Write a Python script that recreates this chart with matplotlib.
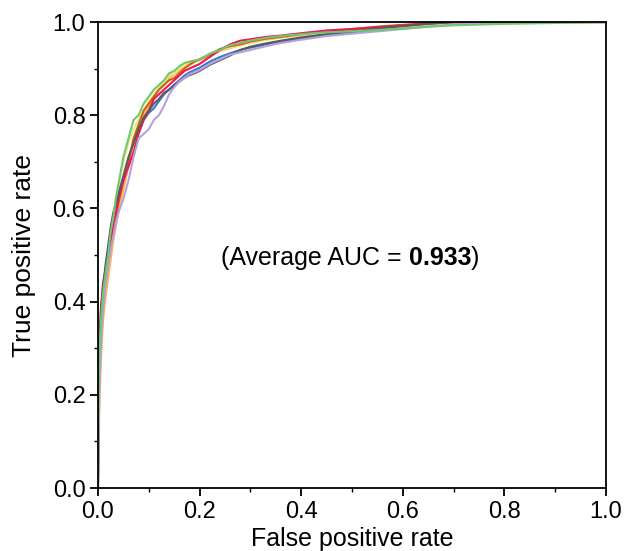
import matplotlib
matplotlib.use("Agg")
import matplotlib.pyplot as plt
from matplotlib.ticker import MultipleLocator, FormatStrFormatter

plt.rcParams['font.family'] = ['Liberation Sans', 'DejaVu Sans']

# Shared false-positive-rate sample points
fpr_points = [0, 0.001, 0.003, 0.006, 0.01, 0.015, 0.02, 0.025, 0.03, 0.035, 0.04,
              0.05, 0.06, 0.07, 0.08, 0.09, 0.10, 0.11, 0.12, 0.13, 0.14,
              0.15, 0.16, 0.17, 0.18, 0.19, 0.20, 0.22, 0.24, 0.26, 0.28,
              0.30, 0.33, 0.36, 0.40, 0.45, 0.50, 0.55, 0.60, 0.65, 0.70,
              0.80, 0.90, 1.00]

# True positive rate of each ROC curve at those points
blue_tpr = [0, 0.12, 0.26, 0.35, 0.40, 0.42, 0.46, 0.52, 0.56, 0.58, 0.61,
            0.66, 0.70, 0.74, 0.77, 0.79, 0.805, 0.815, 0.83, 0.845, 0.855,
            0.865, 0.875, 0.885, 0.892, 0.897, 0.902, 0.915, 0.925, 0.933, 0.94,
            0.945, 0.952, 0.958, 0.965, 0.972, 0.978, 0.984, 0.989, 0.994, 0.997,
            0.999, 1.0, 1.0]
orange_tpr = [0, 0.08, 0.18, 0.28, 0.36, 0.41, 0.45, 0.49, 0.53, 0.56, 0.59,
              0.64, 0.69, 0.73, 0.77, 0.80, 0.82, 0.84, 0.855, 0.865, 0.88,
              0.888, 0.895, 0.903, 0.91, 0.915, 0.918, 0.928, 0.938, 0.944, 0.95,
              0.955, 0.962, 0.967, 0.972, 0.978, 0.983, 0.987, 0.991, 0.994, 0.997,
              0.999, 1.0, 1.0]
yellow_tpr = [0, 0.13, 0.25, 0.34, 0.40, 0.45, 0.50, 0.54, 0.58, 0.62, 0.65,
              0.70, 0.74, 0.77, 0.79, 0.81, 0.83, 0.845, 0.86, 0.87, 0.885,
              0.89, 0.90, 0.91, 0.915, 0.918, 0.92, 0.93, 0.94, 0.945, 0.95,
              0.955, 0.962, 0.968, 0.973, 0.978, 0.982, 0.986, 0.99, 0.993, 0.996,
              0.998, 1.0, 1.0]
brown_tpr = [0, 0.14, 0.27, 0.36, 0.41, 0.45, 0.49, 0.52, 0.55, 0.58, 0.61,
             0.66, 0.70, 0.75, 0.78, 0.81, 0.825, 0.84, 0.855, 0.865, 0.875,
             0.88, 0.89, 0.90, 0.908, 0.915, 0.92, 0.93, 0.942, 0.948, 0.952,
             0.958, 0.964, 0.968, 0.974, 0.98, 0.985, 0.99, 0.994, 0.997, 0.999,
             1.0, 1.0, 1.0]
red_tpr = [0, 0.22, 0.32, 0.39, 0.44, 0.47, 0.50, 0.53, 0.56, 0.59, 0.62,
           0.66, 0.69, 0.72, 0.76, 0.79, 0.81, 0.835, 0.845, 0.855, 0.865,
           0.875, 0.885, 0.895, 0.90, 0.905, 0.91, 0.925, 0.94, 0.952, 0.96,
           0.963, 0.968, 0.971, 0.976, 0.982, 0.985, 0.989, 0.993, 0.997, 1.0,
           1.0, 1.0, 1.0]
gray_tpr = [0, 0.17, 0.30, 0.38, 0.43, 0.48, 0.52, 0.56, 0.59, 0.61, 0.63,
            0.67, 0.71, 0.74, 0.77, 0.795, 0.81, 0.825, 0.835, 0.848, 0.855,
            0.865, 0.872, 0.88, 0.886, 0.89, 0.895, 0.908, 0.918, 0.928, 0.94,
            0.947, 0.954, 0.96, 0.967, 0.974, 0.98, 0.986, 0.991, 0.996, 1.0,
            1.0, 1.0, 1.0]
lavender_tpr = [0, 0.10, 0.22, 0.31, 0.38, 0.44, 0.48, 0.51, 0.54, 0.57, 0.59,
                0.62, 0.66, 0.71, 0.75, 0.76, 0.77, 0.79, 0.80, 0.82, 0.845,
                0.86, 0.872, 0.88, 0.888, 0.892, 0.897, 0.91, 0.92, 0.93, 0.935,
                0.94, 0.948, 0.955, 0.962, 0.97, 0.975, 0.98, 0.985, 0.99, 0.995,
                0.998, 1.0, 1.0]
green_tpr = [0, 0.19, 0.30, 0.36, 0.42, 0.46, 0.50, 0.55, 0.58, 0.62, 0.65,
             0.71, 0.75, 0.79, 0.80, 0.825, 0.84, 0.855, 0.865, 0.875, 0.89,
             0.895, 0.905, 0.912, 0.915, 0.917, 0.92, 0.932, 0.94, 0.95, 0.955,
             0.96, 0.966, 0.97, 0.974, 0.978, 0.98, 0.983, 0.986, 0.99, 0.993,
             0.996, 0.998, 1.0]

curves = [
    (blue_tpr, '#3c78c8'),
    (orange_tpr, '#ffb45a'),
    (yellow_tpr, '#f5e68c'),
    (brown_tpr, '#c8640a'),
    (red_tpr, '#f0145a'),
    (gray_tpr, '#5a5a5a'),
    (lavender_tpr, '#b4a0dc'),
    (green_tpr, '#6ec86e'),
]

auc_text_prefix = "(Average AUC = "
auc_value = "0.933"

fig = plt.figure(figsize=(6.26, 5.51), dpi=100)
ax = fig.add_axes([0.1565, 0.1143, 0.8115, 0.8457])

for tpr, col in curves:
    ax.plot(fpr_points, tpr, color=col, lw=1.5)

ax.set_xlim(0, 1)
ax.set_ylim(0, 1)
ax.xaxis.set_major_locator(MultipleLocator(0.2))
ax.xaxis.set_minor_locator(MultipleLocator(0.1))
ax.yaxis.set_major_locator(MultipleLocator(0.2))
ax.yaxis.set_minor_locator(MultipleLocator(0.1))
ax.tick_params(which='major', direction='out', length=6, width=1.3, labelsize=17, pad=3)
ax.tick_params(which='minor', direction='out', length=3, width=1.0)
ax.xaxis.set_major_formatter(FormatStrFormatter('%.1f'))
ax.yaxis.set_major_formatter(FormatStrFormatter('%.1f'))
for s in ax.spines.values():
    s.set_linewidth(1.3)

ax.set_xlabel('False positive rate', fontsize=18, labelpad=3)
ax.set_ylabel('True positive rate', fontsize=19, labelpad=12)

ty = 0.494
t1 = ax.text(0.242, ty, auc_text_prefix, fontsize=18, ha='left', va='center', transform=ax.transAxes)
fig.canvas.draw()
r = fig.canvas.get_renderer()
bb = t1.get_window_extent(renderer=r).transformed(ax.transAxes.inverted())
t2 = ax.text(bb.x1, ty, auc_value, fontsize=18, fontweight='bold', ha='left', va='center', transform=ax.transAxes)
bb2 = t2.get_window_extent(renderer=r).transformed(ax.transAxes.inverted())
ax.text(bb2.x1, ty, ")", fontsize=18, ha='left', va='center', transform=ax.transAxes)

fig.savefig('out.png', dpi=100)
